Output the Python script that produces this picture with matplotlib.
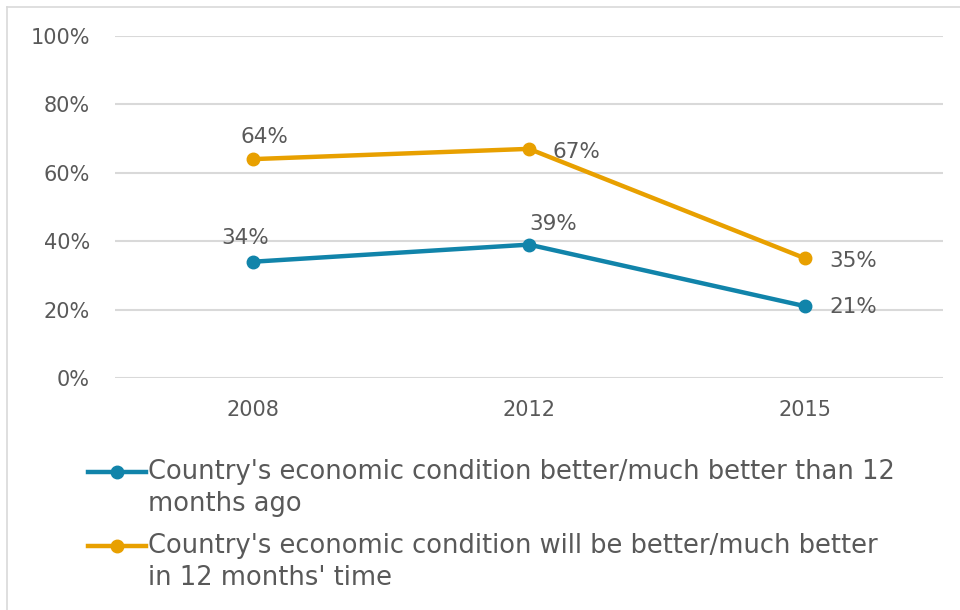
import matplotlib.pyplot as plt
from matplotlib.lines import Line2D

plt.rcParams['font.family'] = ['DejaVu Sans']

years = ['2008', '2012', '2015']
better_now = [34, 39, 21]
better_future = [64, 67, 35]
series_names = [
    ["Country's economic condition better/much better than 12", "months ago"],
    ["Country's economic condition will be better/much better", "in 12 months' time"],
]

blue = '#1184AA'
orange = '#E8A000'
grey_text = '#595959'
grid_col = '#D9D9D9'
W, H = 960, 610

fig = plt.figure(figsize=(W / 100, H / 100), dpi=100)
ax = fig.add_axes([115 / W, 1 - 378 / H, 828 / W, 342 / H])

x = range(len(years))
ax.plot(x, better_now, color=blue, lw=3.2, marker='o', ms=9, zorder=3)
ax.plot(x, better_future, color=orange, lw=3.2, marker='o', ms=9, zorder=3)

# value labels, nudged (in pixels) the way they sit on the slide
offsets_now = [(-8, 24, 'center'), (24, 21, 'center'), (24, -1, 'left')]
offsets_fut = [(11, 22, 'center'), (24, -3, 'left'), (24, -3, 'left')]
for vals, offs in ((better_now, offsets_now), (better_future, offsets_fut)):
    for i, v in enumerate(vals):
        dx, dy, ha = offs[i]
        ax.annotate(f'{v}%', (i, v), xytext=(dx, dy), textcoords='offset pixels',
                    ha=ha, va='center', fontsize=15.5, color=grey_text)

ax.set_xlim(-0.5, 2.5)
ax.set_ylim(0, 100)
ax.set_yticks(range(0, 101, 20))
ax.set_yticklabels([f'{t}%' for t in range(0, 101, 20)])
ax.set_xticks(list(x))
ax.set_xticklabels(years)
ax.tick_params(length=0, labelsize=15, labelcolor=grey_text)
ax.tick_params(axis='y', pad=18)
ax.tick_params(axis='x', pad=16)
ax.grid(axis='y', color=grid_col, lw=1.5)
ax.set_axisbelow(True)
for s in ax.spines.values():
    s.set_visible(False)

# legend below the plot, handle level with the first text line
for k, (color, lines) in enumerate(zip([blue, orange], series_names)):
    y0 = 1 - (472 + 74 * k) / H
    fig.add_artist(Line2D([88 / W, 146 / W], [y0, y0], color=color, lw=3.2,
                          transform=fig.transFigure))
    fig.add_artist(Line2D([117 / W], [y0], color=color, marker='o', ms=9,
                          transform=fig.transFigure))
    for j, line in enumerate(lines):
        fig.text(148 / W, y0 - j * 32 / H, line, fontsize=18.5, color=grey_text,
                 ha='left', va='center')

# outer frame, top and left edges
fig.add_artist(Line2D([7 / W, 1], [1 - 7 / H, 1 - 7 / H], color=grid_col, lw=1.2,
                      transform=fig.transFigure))
fig.add_artist(Line2D([7 / W, 7 / W], [0, 1 - 7 / H], color=grid_col, lw=1.2,
                      transform=fig.transFigure))

fig.savefig('out.png', dpi=100)
